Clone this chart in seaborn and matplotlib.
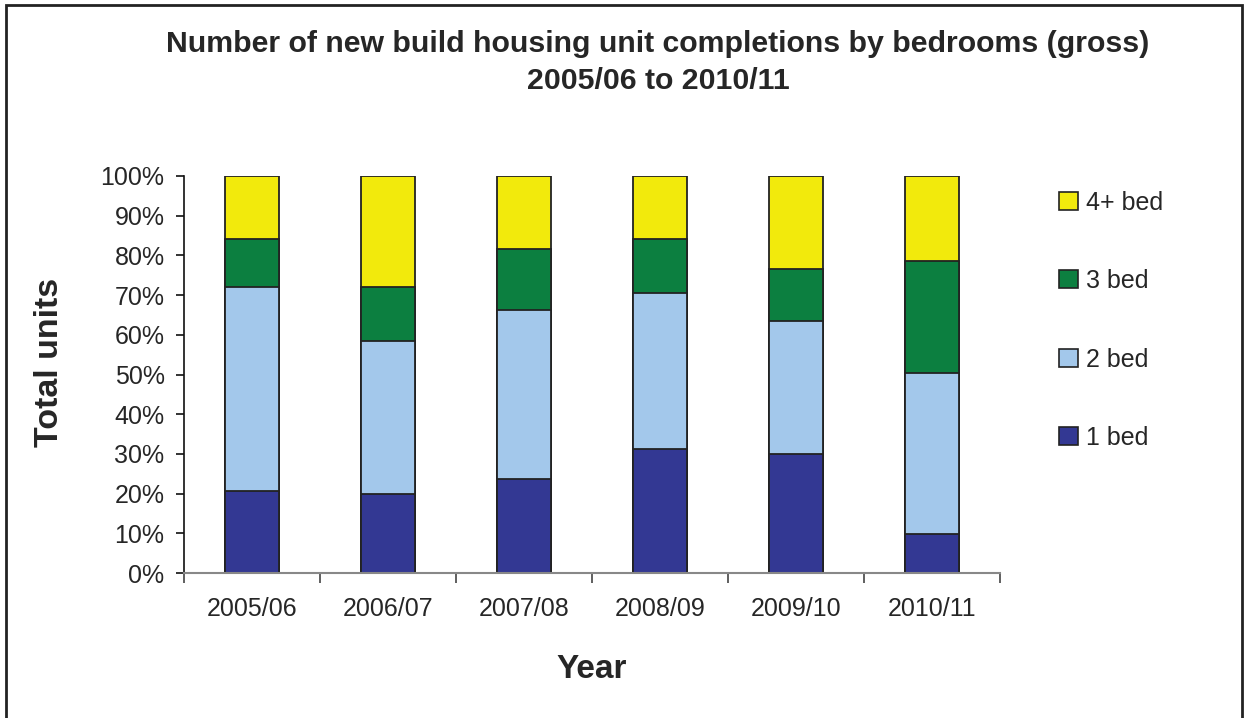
import pandas as pd
import matplotlib
matplotlib.use("Agg")
import matplotlib.pyplot as plt
import seaborn as sns
from matplotlib.patches import Patch, Rectangle
from matplotlib.ticker import FixedLocator, PercentFormatter

YEARS = ["2005/06", "2006/07", "2007/08", "2008/09", "2009/10", "2010/11"]
BED_1 = [20.6, 19.8, 23.6, 31.2, 30.0, 9.9]
BED_2 = [51.4, 38.7, 42.6, 39.3, 33.4, 40.5]
BED_3 = [12.2, 13.6, 15.3, 13.7, 13.2, 28.2]
BED_4 = [15.8, 27.9, 18.5, 15.8, 23.4, 21.4]

LABELS = ["1 bed", "2 bed", "3 bed", "4+ bed"]
COLORS = ["#333893", "#A3C8EB", "#0C7F40", "#F2EA0C"]


def build_frame():
    df = pd.DataFrame({"Year": YEARS, "1 bed": BED_1, "2 bed": BED_2,
                       "3 bed": BED_3, "4+ bed": BED_4})
    # cumulative tops, so each layer can be drawn over the one above it
    cum = df[LABELS].cumsum(axis=1)
    cum["Year"] = df["Year"]
    return cum


def plot_results(cum):
    sns.set_style("white")
    plt.rcParams["font.family"] = ["Liberation Sans", "DejaVu Sans"]

    fig = plt.figure(figsize=(12.44, 7.18), dpi=100)
    ax = fig.add_axes([0.1479, 0.2019, 0.656, 0.553])

    for name, color in zip(reversed(LABELS), reversed(COLORS)):
        sns.barplot(data=cum, x="Year", y=name, color=color, saturation=1,
                    width=0.4, edgecolor="#222222", linewidth=1.3, ax=ax)

    ax.set_ylim(0, 100)
    ax.set_xlim(-0.5, len(YEARS) - 0.5)
    ax.yaxis.set_major_locator(FixedLocator(range(0, 101, 10)))
    ax.yaxis.set_major_formatter(PercentFormatter(decimals=0))
    ax.set_xlabel("")
    ax.set_ylabel("")

    for side in ["top", "right"]:
        ax.spines[side].set_visible(False)
    ax.spines["left"].set_color("#111111")
    ax.spines["left"].set_linewidth(1.2)
    ax.spines["bottom"].set_color("#888888")
    ax.spines["bottom"].set_linewidth(1.5)

    ax.tick_params(axis="y", direction="out", length=6, width=1.2,
                   color="#111111", labelsize=18, pad=8, left=True)
    ax.tick_params(axis="x", which="major", length=0, labelsize=18, pad=17)
    ax.set_xticks([i - 0.5 for i in range(len(YEARS) + 1)], minor=True)
    ax.tick_params(axis="x", which="minor", direction="out", length=7,
                   width=1.2, color="#444444", bottom=True)

    handles = [Patch(facecolor=c, edgecolor="#222222", linewidth=1.2, label=l)
               for l, c in zip(reversed(LABELS), reversed(COLORS))]
    fig.legend(handles=handles, loc="upper left",
               bbox_to_anchor=(0.833, 0.766), frameon=False, fontsize=18,
               handlelength=0.75, handleheight=0.75, handletextpad=0.35,
               labelspacing=2.18)

    fig.text(0.529, 0.913,
             "Number of new build housing unit completions by bedrooms (gross)\n"
             "2005/06 to 2010/11",
             ha="center", va="center", fontsize=21.8, fontweight="bold",
             linespacing=1.4)
    fig.text(0.040, 0.495, "Total units", rotation=90, ha="center",
             va="center", fontsize=24.5, fontweight="bold")
    fig.text(0.476, 0.067, "Year", ha="center", va="center",
             fontsize=24, fontweight="bold")

    fig.patches.append(Rectangle((6 / 1244, -0.01), 1236 / 1244, 1.003,
                                 transform=fig.transFigure, fill=False,
                                 edgecolor="#222222", linewidth=2))

    fig.savefig("out.png", dpi=100)


if __name__ == "__main__":
    plot_results(build_frame())
